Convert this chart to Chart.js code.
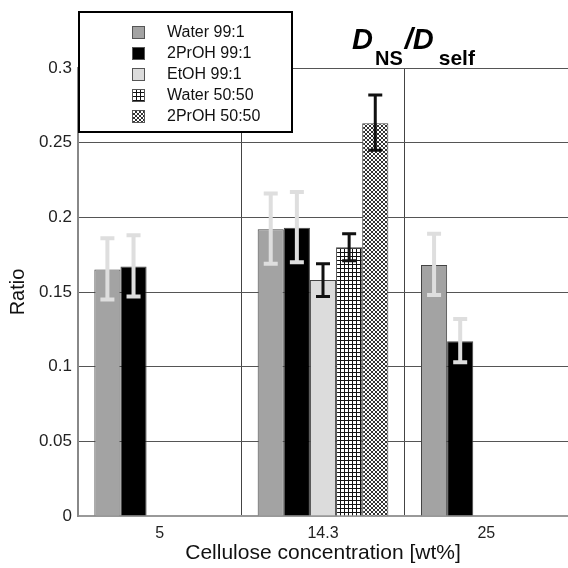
<!DOCTYPE html>
<html>
<head>
<meta charset="utf-8">
<script src="https://cdn.jsdelivr.net/npm/chart.js@4.4.0/dist/chart.umd.min.js"></script>
<style>
  html, body { margin: 0; padding: 0; background: #fff; }
  #wrap { width: 568px; height: 568px; position: relative; }
</style>
</head>
<body>
<div id="wrap"><canvas id="myChart"></canvas></div>
<script>
// data
const categories = ["5", "14.3", "25"];
const seriesNames = ["Water 99:1", "2PrOH 99:1", "EtOH 99:1", "Water 50:50", "2PrOH 50:50"];

const water991 = [0.165, 0.192, 0.168];
const prop991 = [0.167, 0.193, 0.117];
const etoh991 = [null, 0.158, null];
const water5050 = [null, 0.180, null];
const prop5050 = [null, 0.263, null];

// error bar ends (low / high)
const water991Low = [0.145, 0.169, 0.148];
const water991High = [0.186, 0.216, 0.189];
const prop991Low = [0.147, 0.170, 0.103];
const prop991High = [0.188, 0.217, 0.132];
const etoh991Low = [null, 0.147, null];
const etoh991High = [null, 0.169, null];
const water5050Low = [null, 0.171, null];
const water5050High = [null, 0.189, null];
const prop5050Low = [null, 0.245, null];
const prop5050High = [null, 0.282, null];

const yTicks = [0, 0.05, 0.1, 0.15, 0.2, 0.25, 0.3];

const FONT = "'Liberation Sans', Arial, sans-serif";

// patterns
function gridPattern() {
  const c = document.createElement("canvas");
  c.width = 4; c.height = 4;
  const g = c.getContext("2d");
  g.fillStyle = "#fff"; g.fillRect(0, 0, 4, 4);
  g.fillStyle = "#111";
  g.fillRect(0, 0, 4, 1);
  g.fillRect(0, 0, 1, 4);
  return g.createPattern(c, "repeat");
}
function hatchPattern() {
  const c = document.createElement("canvas");
  c.width = 4; c.height = 4;
  const g = c.getContext("2d");
  g.fillStyle = "#fff"; g.fillRect(0, 0, 4, 4);
  g.fillStyle = "#333";
  for (let i = 0; i < 4; i++) {
    g.fillRect(i, i, 1, 1);
    g.fillRect(3 - i, i, 1, 1);
  }
  return g.createPattern(c, "repeat");
}

const fills = ["#a3a3a3", "#000000", "#dcdcdc", gridPattern(), hatchPattern()];
const errColors = ["#dedede", "#dedede", "#111", "#111", "#111"];
const errWidths = [4, 4, 3, 3, 3];
const lows = [water991Low, prop991Low, etoh991Low, water5050Low, prop5050Low];
const highs = [water991High, prop991High, etoh991High, water5050High, prop5050High];
const values = [water991, prop991, etoh991, water5050, prop5050];

const errorBars = {
  id: "errorBars",
  afterDatasetsDraw(chart) {
    const ctx = chart.ctx;
    const y = chart.scales.y;
    chart.data.datasets.forEach((ds, di) => {
      const meta = chart.getDatasetMeta(di);
      meta.data.forEach((bar, i) => {
        if (lows[di][i] == null) return;
        const yl = y.getPixelForValue(lows[di][i]);
        const yh = y.getPixelForValue(highs[di][i]);
        ctx.save();
        ctx.strokeStyle = errColors[di];
        ctx.lineWidth = errWidths[di];
        ctx.beginPath();
        ctx.moveTo(bar.x, yl); ctx.lineTo(bar.x, yh);
        ctx.moveTo(bar.x - 7, yl); ctx.lineTo(bar.x + 7, yl);
        ctx.moveTo(bar.x - 7, yh); ctx.lineTo(bar.x + 7, yh);
        ctx.stroke();
        ctx.restore();
      });
    });
  }
};

const boxLegend = {
  id: "boxLegend",
  afterDraw(chart) {
    const ctx = chart.ctx;
    const area = chart.chartArea;
    ctx.save();
    // keep the grid from poking out above the plot
    ctx.fillStyle = "#fff";
    ctx.fillRect(area.left - 2, 0, area.right - area.left + 4, area.top - 1);

    ctx.fillRect(79, 12, 213, 120);
    ctx.strokeStyle = "#000";
    ctx.lineWidth = 2;
    ctx.strokeRect(79, 12, 213, 120);
    ctx.font = "16px " + FONT;
    ctx.textBaseline = "middle";
    chart.data.datasets.forEach((ds, i) => {
      const cy = 32 + i * 21;
      ctx.fillStyle = ds.backgroundColor;
      ctx.fillRect(132, cy - 6, 12, 13);
      ctx.strokeStyle = "#555";
      ctx.lineWidth = 1;
      ctx.strokeRect(132.5, cy - 5.5, 12, 12);
      ctx.fillStyle = "#111";
      ctx.fillText(ds.label, 167, cy + 1);
    });
    // title D_NS / D_self
    ctx.fillStyle = "#000";
    ctx.textBaseline = "alphabetic";
    let x = 352;
    ctx.font = "italic bold 29px " + FONT;
    ctx.fillText("D", x, 49); x += ctx.measureText("D").width + 2;
    ctx.font = "bold 20px " + FONT;
    ctx.fillText("NS", x, 65); x += ctx.measureText("NS").width + 2;
    ctx.font = "italic bold 29px " + FONT;
    ctx.fillText("/D", x, 49); x += ctx.measureText("/D").width + 5;
    ctx.font = "bold 21px " + FONT;
    ctx.fillText("self", x, 65);
    ctx.restore();
  }
};

new Chart("myChart", {
  type: "bar",
  data: {
    labels: categories,
    datasets: seriesNames.map((name, i) => ({
      label: name,
      data: values[i],
      backgroundColor: fills[i],
      borderColor: "#444",
      borderWidth: 1,
      barPercentage: 1,
      categoryPercentage: 0.8,
    })),
  },
  options: {
    responsive: true,
    maintainAspectRatio: false,
    animation: false,
    layout: { padding: { top: 68, right: 0, left: 0, bottom: 0 } },
    plugins: {
      legend: { display: false },
      tooltip: { enabled: false },
    },
    scales: {
      x: {
        grid: { display: true, color: "#444", offset: true, drawTicks: false, lineWidth: 1 },
        border: { color: "#999", width: 2 },
        ticks: { color: "#222", font: { family: FONT, size: 16 }, padding: 8 },
        title: {
          display: true,
          text: "Cellulose concentration [wt%]",
          color: "#111",
          font: { family: FONT, size: 21 },
          padding: { top: 0, bottom: 2 },
        },
        afterFit(scale) { scale.height = 52; },
      },
      y: {
        min: 0,
        max: 0.3,
        afterBuildTicks(scale) { scale.ticks = yTicks.map(v => ({ value: v })); },
        grid: { color: "#555", drawTicks: false, lineWidth: 1 },
        border: { color: "#888", width: 2 },
        ticks: {
          color: "#222",
          font: { family: FONT, size: 17 },
          padding: 6,
          callback: v => String(v),
        },
        title: {
          display: true,
          text: "Ratio",
          color: "#111",
          font: { family: FONT, size: 20 },
          padding: { top: 6, bottom: 0 },
        },
        afterFit(scale) { scale.width = 78; },
      },
    },
  },
  plugins: [errorBars, boxLegend],
});
</script>
</body>
</html>
